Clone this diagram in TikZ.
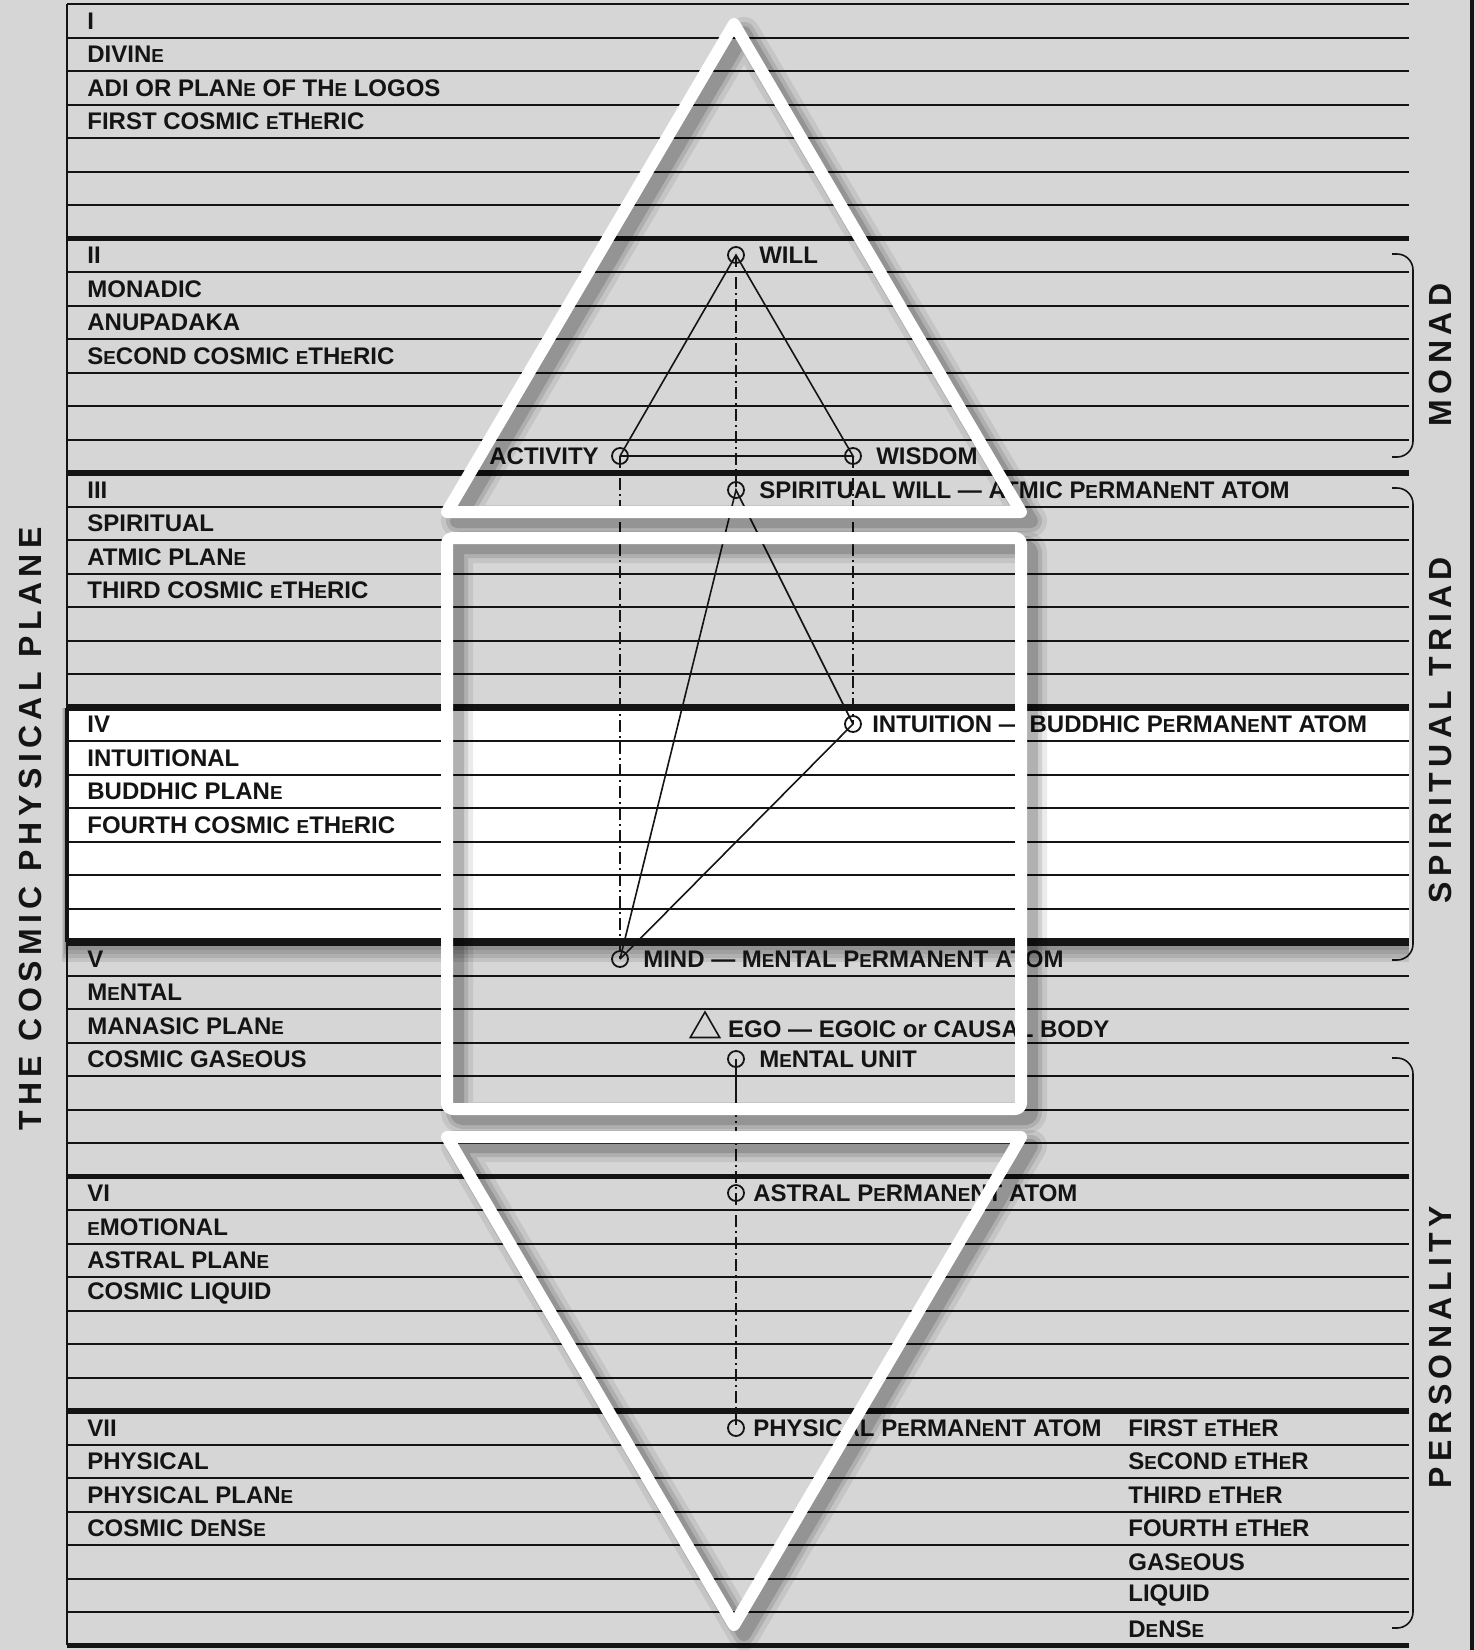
\documentclass[tikz,border=0pt]{standalone}
\usepackage{fontspec}
\setmainfont{Liberation Sans}
\newfontfamily\sidefont{Liberation Sans}[LetterSpace=17]
\usepackage{tikz}
\usetikzlibrary{positioning,shapes.geometric}
\definecolor{chartGray}{RGB}{214,214,214}
\definecolor{chartInk}{RGB}{20,20,20}
\newcommand{\se}{{\fontsize{9.4pt}{10pt}\selectfont E}}
\newcommand{\topTriangle}{(734,24) -- (1021,512) -- (447,512) -- cycle}
\newcommand{\midFrame}{(447,538) rectangle (1021,1109)}
\newcommand{\lowTriangle}{(447,1137) -- (1021,1137) -- (734,1625) -- cycle}

\begin{document}
\begin{tikzpicture}[x=0.5pt, y=-0.5pt,
  rowline/.style={chartInk, line width=1pt},
  planeline/.style={chartInk, line width=2.8pt},
  lbl/.style={font=\bfseries\fontsize{12pt}{14pt}\selectfont, text=chartInk, inner sep=0pt, anchor=west},
  atom/.style={circle, draw=chartInk, line width=0.9pt, minimum size=8pt, inner sep=0pt},
  link/.style={chartInk, line width=0.8pt},
  dashlink/.style={chartInk, line width=0.9pt, dash pattern=on 6pt off 2pt on 1pt off 2pt},
  bracket/.style={chartInk, line width=0.8pt, rounded corners=8pt},
  sidelbl/.style={font=\sidefont\bfseries\fontsize{16pt}{18pt}\selectfont, text=chartInk, rotate=90, inner sep=0pt},
  frame/.style={white, line width=6pt, line join=round},
  shade/.style={black, line join=round, shift={(10,9)}}
]
\useasboundingbox (0,0) rectangle (1476,1650);
\fill[chartGray] (0,0) rectangle (1476,1650);

% plane IV stands out
\foreach \s in {4,8,12,16,20}
  \fill[black, opacity=0.09] ({67-\s/4},707.5) rectangle (1409,{942+\s});
\fill[white] (67,707.5) rectangle (1409,942);

\foreach \i in {0,...,48}
  \draw[rowline] (67,{4+33.5*\i}) -- (1409,{4+33.5*\i});
\foreach \p in {1,...,7}
  \draw[planeline] (67,{4+234.5*\p}) -- (1409,{4+234.5*\p});
\draw[chartInk, line width=3.6pt] (67,707.5) -- (1409,707.5) (67,942) -- (1409,942);
\draw[chartInk, line width=1.3pt] (67,4) -- (67,1645);
\draw[chartInk, line width=2pt] (67,707.5) -- (67,942);
\draw[chartInk, line width=2pt] (1472,0) -- (1472,1650);

\foreach \r/\txt in {0/I, 1/DIVIN\se, 2/ADI OR PLAN\se{} OF TH\se{} LOGOS, 3/FIRST COSMIC \se TH\se RIC,
  7/II, 8/MONADIC, 9/ANUPADAKA, 10/S\se COND COSMIC \se TH\se RIC,
  14/III, 15/SPIRITUAL, 16/ATMIC PLAN\se, 17/THIRD COSMIC \se TH\se RIC,
  21/IV, 22/INTUITIONAL, 23/BUDDHIC PLAN\se, 24/FOURTH COSMIC \se TH\se RIC,
  28/V, 29/M\se NTAL, 30/MANASIC PLAN\se, 31/COSMIC GAS\se OUS,
  35/VI, 36/\se MOTIONAL, 37/ASTRAL PLAN\se, 38/COSMIC LIQUID,
  42/VII, 43/PHYSICAL, 44/PHYSICAL PLAN\se, 45/COSMIC D\se NS\se}
  \node[lbl] (plane-\r) at (87,{4+33.5*(\r+0.5)}) {\txt};

\foreach \r/\txt in {42/FIRST \se TH\se R, 43/S\se COND \se TH\se R, 44/THIRD \se TH\se R,
  45/FOURTH \se TH\se R, 46/GAS\se OUS, 47/LIQUID, 48/D\se NS\se}
  \node[lbl] (sub-\r) at (1128,{4+33.5*(\r+0.5)}) {\txt};

\node[atom] (will) at (736,255) {};
\node[atom] (activity) at (620,456) {};
\node[atom] (wisdom) at (853,456) {};
\node[atom] (spwill) at (736,490) {};
\node[atom] (intuition) at (853,724) {};
\node[atom] (mind) at (620,959) {};
\node[draw=chartInk, line width=0.8pt, regular polygon, regular polygon sides=3, minimum size=17pt, inner sep=0pt] (ego) at (705,1029) {};
\node[atom] (mentalunit) at (736,1059) {};
\node[atom] (astral) at (736,1193) {};
\node[atom] (physical) at (736,1428) {};
\coordinate (unitstem) at (736,1105);

\node[lbl, right=7pt of will] (will-txt) {WILL};
\node[lbl, left=6pt of activity] (activity-txt) {ACTIVITY};
\node[lbl, right=7pt of wisdom] (wisdom-txt) {WISDOM};
\node[lbl, right=7pt of spwill] (spwill-txt) {SPIRITUAL WILL — ATMIC P\se RMAN\se NT ATOM};
\node[lbl, right=5pt of intuition] (intuition-txt) {INTUITION — BUDDHIC P\se RMAN\se NT ATOM};
\node[lbl, right=7pt of mind] (mind-txt) {MIND — M\se NTAL P\se RMAN\se NT ATOM};
\node[lbl, right=6pt of ego] (ego-txt) {EGO — EGOIC or CAUSAL BODY};
\node[lbl, right=7pt of mentalunit] (mentalunit-txt) {M\se NTAL UNIT};
\node[lbl, right=4pt of astral] (astral-txt) {ASTRAL P\se RMAN\se NT ATOM};
\node[lbl, right=4pt of physical] (physical-txt) {PHYSICAL P\se RMAN\se NT ATOM};

\draw[link] (activity.center) -- (will.center) -- (wisdom.center) -- (activity.center);
\draw[dashlink] (will.center) -- (spwill.center);
\draw[dashlink] (activity.center) -- (mind.center);
\draw[dashlink] (wisdom.center) -- (intuition.center);
\draw[link] (mind.center) -- (spwill.center) -- (intuition.center) -- (mind.center);
\draw[link] (mentalunit.center) -- (unitstem);
\draw[dashlink] (unitstem) -- (astral.center) -- (physical.center);

\draw[bracket] (1392,254) -- (1413,254) -- (1413,457) -- (1392,457);
\draw[bracket] (1392,488) -- (1413,488) -- (1413,960) -- (1392,960);
\draw[bracket] (1392,1058) -- (1413,1058) -- (1413,1628) -- (1392,1628);

\node[sidelbl] (cosmic) at (30,829) {THE COSMIC PHYSICAL PLANE};
\node[sidelbl] (monad) at (1440,355) {MONAD};
\node[sidelbl] (triad) at (1440,730) {SPIRITUAL TRIAD};
\node[sidelbl] (personality) at (1440,1347) {PERSONALITY};

\foreach \w/\o in {16/0.08, 11/0.11, 7/0.15} {
  \draw[shade, line width=\w pt, opacity=\o] \topTriangle;
  \draw[shade, line width=\w pt, opacity=\o, rounded corners=3pt] \midFrame;
  \draw[shade, line width=\w pt, opacity=\o] \lowTriangle;
}
\draw[frame] \topTriangle;
\draw[frame, rounded corners=3pt] \midFrame;
\draw[frame] \lowTriangle;
\end{tikzpicture}
\end{document}
